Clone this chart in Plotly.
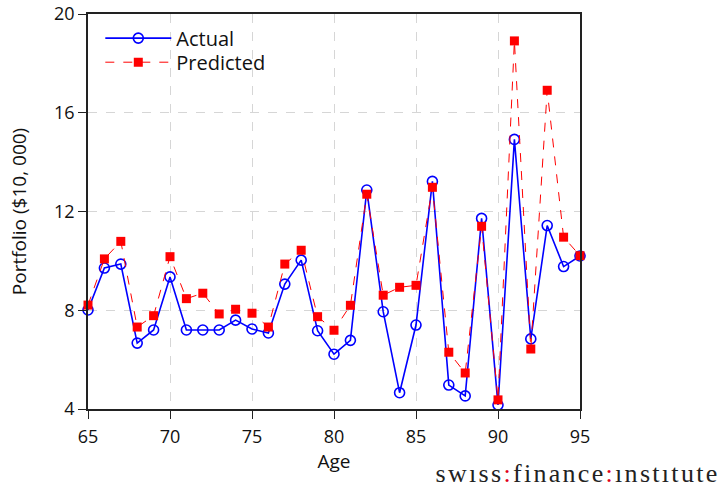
import plotly.graph_objects as go

ages = list(range(65, 96))
actual = [8.01, 9.71, 9.87, 6.67, 7.20, 9.35, 7.20, 7.20, 7.20, 7.60, 7.24, 7.08,
          9.06, 10.03, 7.17, 6.22, 6.78, 12.87, 7.94, 4.66, 7.40, 13.22, 4.97, 4.53,
          11.72, 4.16, 14.92, 6.84, 11.43, 9.77, 10.20]
predicted = [8.21, 10.08, 10.79, 7.32, 7.78, 10.17, 8.47, 8.69, 7.85, 8.04, 7.88, 7.32,
             9.87, 10.43, 7.74, 7.19, 8.20, 12.70, 8.61, 8.93, 9.01, 12.98, 6.30, 5.46,
             11.40, 4.37, 18.91, 6.43, 16.91, 10.96, 10.21]
x_ticks = [65, 70, 75, 80, 85, 90, 95]
y_ticks = [4, 8, 12, 16, 20]

FONT = "Open Sans"

fig = go.Figure()
fig.add_trace(go.Scatter(
    x=ages, y=actual, name="Actual", mode="lines+markers",
    line=dict(color="#0000ff", width=1.6),
    marker=dict(symbol="circle-open", size=10, color="#0000ff", line=dict(width=1.6)),
    cliponaxis=False, legend="legend",
))
fig.add_trace(go.Scatter(
    x=ages, y=predicted, name="Predicted", mode="lines+markers",
    line=dict(color="#ff0000", width=1, dash="dash"),
    marker=dict(symbol="square", size=9, color="#ff0000"),
    cliponaxis=False, legend="legend2",
))

axis_common = dict(
    showline=True, mirror=True, linecolor="#222222", linewidth=1.5,
    ticks="outside", ticklen=8, tickcolor="#222222", tickwidth=1.2,
    showgrid=True, gridcolor="#d6d6d6", griddash="dash", gridwidth=1,
    zeroline=False, automargin=False,
    tickfont=dict(family=FONT, size=18, color="#111111"),
)

fig.update_xaxes(range=[65, 95], tickvals=x_ticks, ticklabelstandoff=3,
                 title=dict(text="Age", font=dict(family=FONT, size=19, color="#111111"), standoff=6),
                 **axis_common)
fig.update_yaxes(range=[4, 20], tickvals=y_ticks,
                 title=dict(text="Portfolio ($10, 000)", font=dict(family=FONT, size=19, color="#111111"), standoff=22),
                 **axis_common)

leg_common = dict(xanchor="left", yanchor="middle", bgcolor="rgba(0,0,0,0)",
                  font=dict(family=FONT, size=20, color="#111111"), itemwidth=66)
fig.update_layout(
    width=722, height=484,
    margin=dict(l=88, r=142, t=14, b=75),
    plot_bgcolor="white", paper_bgcolor="white",
    font=dict(family=FONT, color="#111111"),
    legend=dict(x=0.025, y=0.939, **leg_common),
    legend2=dict(x=0.025, y=0.878, **leg_common),
    showlegend=True,
)

fig.add_annotation(
    xref="paper", yref="paper", x=1.0, y=0, xshift=-120, yshift=-64,
    xanchor="left", yanchor="middle", showarrow=False,
    text="swıss<span style='color:#e2001a'>:</span>finance<span style='color:#e2001a'>:</span>ınstıtute",
    font=dict(family="Liberation Serif", size=26, color="#222222"),
)

fig.write_html(
    "out.html",
    config={"displayModeBar": False},
    post_script=(
        "document.body.style.margin='0';document.body.style.overflow='hidden';"
        "document.querySelectorAll('.annotation-text').forEach(function(e){e.style.letterSpacing='2.3px';});"
    ),
)
